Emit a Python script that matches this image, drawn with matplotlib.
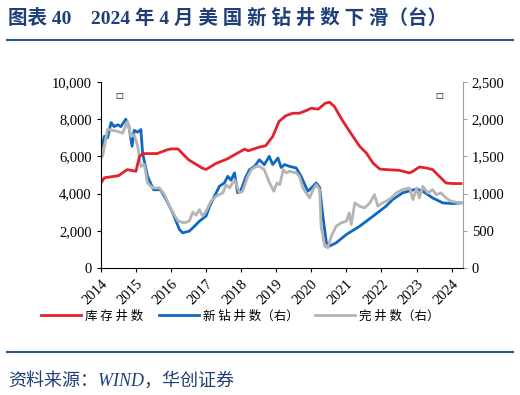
import matplotlib
matplotlib.use('Agg')
import matplotlib.pyplot as plt
from matplotlib.ticker import FuncFormatter, MultipleLocator

plt.rcParams['font.family'] = ['Liberation Serif', 'Noto Sans CJK SC', 'DejaVu Sans']

# 库存井数 (左轴)
duc_x = [2014.0, 2014.1, 2014.5, 2014.75, 2015.0, 2015.1, 2015.2, 2015.6, 2015.9, 2016.0, 2016.2,
         2016.5, 2016.9, 2017.0, 2017.3, 2017.6, 2017.9, 2018.1, 2018.2, 2018.52, 2018.7, 2018.9,
         2019.08, 2019.27, 2019.47, 2019.66, 2019.85, 2020.0, 2020.2, 2020.4, 2020.52, 2020.66,
         2020.85, 2021.03, 2021.19, 2021.38, 2021.57, 2021.76, 2021.95, 2022.13, 2022.51, 2022.8,
         2022.9, 2023.08, 2023.27, 2023.46, 2023.65, 2023.84, 2024.04, 2024.27]
duc = [4570, 4850, 4960, 5290, 5200, 6000, 6150, 6150, 6360, 6400, 6400,
       5820, 5360, 5300, 5640, 5860, 6180, 6390, 6300, 6500, 6570, 7070,
       7880, 8180, 8320, 8320, 8460, 8590, 8540, 8860, 8910, 8680,
       8050, 7520, 7070, 6540, 6180, 5640, 5320, 5290, 5250, 5110,
       5200, 5430, 5380, 5290, 4930, 4570, 4540, 4540]

# 新钻井数 (右轴)
drill_x = [2014.0, 2014.1, 2014.19, 2014.29, 2014.38, 2014.48, 2014.57, 2014.71, 2014.8, 2014.89,
           2014.95, 2015.05, 2015.14, 2015.19, 2015.33, 2015.5, 2015.7, 2015.86, 2016.05, 2016.24,
           2016.33, 2016.52, 2016.67, 2016.81, 2017.0, 2017.1, 2017.24, 2017.38, 2017.52, 2017.62,
           2017.71, 2017.81, 2017.9, 2018.0, 2018.14, 2018.24, 2018.38, 2018.52, 2018.66, 2018.8,
           2018.9, 2019.05, 2019.14, 2019.24, 2019.38, 2019.57, 2019.71, 2019.9, 2020.05, 2020.14,
           2020.24, 2020.33, 2020.43, 2020.52, 2020.71, 2021.0, 2021.38, 2021.76, 2022.13, 2022.32,
           2022.6, 2023.0, 2023.18, 2023.46, 2023.75, 2024.04, 2024.27]
drill = [1590, 1770, 1750, 1955, 1900, 1925, 1900, 2000, 1900, 1635,
         1850, 1825, 1860, 1545, 1232, 1052, 1052, 920, 740, 518,
         473, 495, 562, 630, 698, 830, 965, 1098, 1143, 1232,
         1180, 1278, 1010, 1053, 1232, 1322, 1365, 1455, 1388, 1500,
         1390, 1478, 1350, 1390, 1366, 1344, 1232, 1031, 1098, 1143,
         1080, 696, 339, 295, 339, 450, 562, 696, 830, 920,
         1009, 1062, 1031, 942, 875, 866, 875]

# 完井数 (右轴)
comp_x = [2014.0, 2014.05, 2014.19, 2014.33, 2014.48, 2014.62, 2014.76, 2014.86, 2014.95, 2015.05,
          2015.14, 2015.24, 2015.33, 2015.48, 2015.67, 2015.81, 2016.0, 2016.2, 2016.38, 2016.52,
          2016.62, 2016.71, 2016.81, 2016.9, 2017.0, 2017.14, 2017.29, 2017.48, 2017.57, 2017.67,
          2017.81, 2017.95, 2018.04, 2018.19, 2018.29, 2018.43, 2018.52, 2018.66, 2018.79, 2018.93,
          2019.02, 2019.1, 2019.2, 2019.29, 2019.38, 2019.57, 2019.66, 2019.76, 2019.95, 2020.05,
          2020.14, 2020.24, 2020.28, 2020.38, 2020.47, 2020.57, 2020.71, 2020.85, 2021.0, 2021.08,
          2021.14, 2021.24, 2021.38, 2021.52, 2021.67, 2021.8, 2021.9, 2022.03, 2022.13, 2022.28,
          2022.42, 2022.6, 2022.8, 2022.9, 2023.0, 2023.08, 2023.18, 2023.32, 2023.46, 2023.56,
          2023.7, 2023.84, 2023.98, 2024.13, 2024.27]
comp = [1634, 1500, 1865, 1850, 1835, 1812, 1970, 1768, 1790, 1635,
        1365, 1390, 1143, 1075, 1075, 988, 785, 630, 608, 630,
        750, 710, 785, 698, 762, 898, 965, 1010, 1120, 1075,
        1188, 1010, 1031, 1232, 1322, 1365, 1366, 1321, 1165, 1031,
        1143, 1120, 1321, 1280, 1299, 1277, 1232, 1076, 942, 1053,
        1120, 1053, 562, 295, 272, 428, 562, 607, 629, 741,
        584, 875, 830, 808, 875, 986, 830, 875, 897, 942,
        1009, 1053, 1076, 920, 1076, 942, 1098, 1009, 1053, 986,
        1009, 942, 897, 884, 875]

years = list(range(2014, 2025))
title = '图表 40    2024 年 4 月 美 国 新 钻 井 数 下 滑（台）'
source = '资料来源：WIND，华创证券'
navy = '#1F3F7A'

fig = plt.figure(figsize=(5.2, 3.95), dpi=100)
ax = fig.add_axes([0.194, 0.3215, 0.696, 0.471])
ax2 = ax.twinx()

l1, = ax.plot(duc_x, duc, color='#E3222B', lw=2.0, label='库 存 井 数')
l2, = ax2.plot(drill_x, drill, color='#1068C0', lw=2.0, label='新 钻 井 数（右）')
l3, = ax2.plot(comp_x, comp, color='#B4B4B4', lw=2.0, label='完 井 数（右）')
ax.set_zorder(ax2.get_zorder() + 1)
ax.patch.set_visible(False)

ax.set_xlim(2014, 2024.32)
ax.set_ylim(0, 10000)
ax2.set_ylim(0, 2500)
ax.yaxis.set_major_locator(MultipleLocator(2000))
ax2.yaxis.set_major_locator(MultipleLocator(500))
fmt = FuncFormatter(lambda v, p: f'{int(v):,}')
ax.yaxis.set_major_formatter(fmt)
ax2.yaxis.set_major_formatter(fmt)
ax.set_xticks(years)
ax.set_xticklabels([str(y) for y in years], rotation=45, ha='right', rotation_mode='anchor')

for a in (ax, ax2):
    a.spines['top'].set_visible(False)
    a.tick_params(labelsize=10.5, length=3, width=0.8)
ax.spines['right'].set_visible(False)
ax2.spines['left'].set_visible(False)
ax2.spines['bottom'].set_visible(False)
ax2.spines['right'].set_color('#A0A0A0')
ax2.tick_params(axis='y', colors='#A0A0A0', labelcolor='black')

ax.text(0.04, 0.915, '□', transform=ax.transAxes, fontsize=6, family='DejaVu Sans')
ax.text(0.925, 0.915, '□', transform=ax.transAxes, fontsize=6, family='DejaVu Sans')

fig.legend(handles=[l1, l2, l3], loc='center', bbox_to_anchor=(0.462, 0.2), ncol=3,
           frameon=False, handlelength=3.2, handletextpad=0.3, columnspacing=1.3,
           prop={'family': ['Noto Sans CJK SC'], 'size': 9})

fig.text(0.015, 0.955, title, fontsize=14, fontweight='bold', color=navy, va='center')
fig.add_artist(plt.Line2D([0.013, 0.987], [0.899, 0.899], color='#2B5797', lw=1.5))
fig.add_artist(plt.Line2D([0.013, 0.987], [0.109, 0.109], color='#2B5797', lw=1.5))
fig.text(0.015, 0.035, source, fontsize=13, style='italic', color=navy, va='center')

fig.savefig('out.png', dpi=100)
